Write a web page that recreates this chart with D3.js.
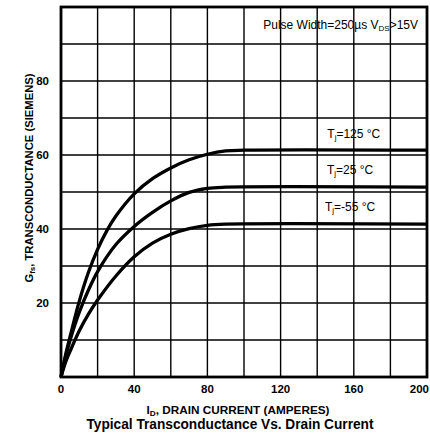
<!DOCTYPE html>
<html><head><meta charset="utf-8">
<script src="https://cdn.jsdelivr.net/npm/d3@7"></script>
<style>body{margin:0;background:#fff}svg{display:block}text{font-family:"Liberation Sans",Arial,sans-serif;fill:#000}</style>
</head><body><svg id="c" width="430" height="437"></svg>
<script>
const xTicks = [0, 40, 80, 120, 160, 200];
const yTicks = [20, 40, 60, 80];
const curve125 = [[0,0],[2.5,6],[5,11],[10,20.5],[15,28.3],[20,34.5],[25,39.5],[30,43.5],[40,49.5],[50,53.6],[60,56.5],[70,58.7],[80,60.2],[90,61.1],[100,61.3],[200,61.3]];
const curve25  = [[0,0],[2.5,5.5],[5,10],[10,17.5],[15,23.5],[20,28.5],[30,35.8],[40,40.7],[50,44.5],[60,47.6],[70,49.9],[80,51],[90,51.3],[200,51.3]];
const curveM55 = [[0,0],[2.5,4],[5,7],[10,12.5],[15,17],[20,20.8],[30,27.3],[40,32.5],[50,36.2],[60,38.6],[70,40.1],[80,41],[90,41.3],[200,41.3]];
const seriesLabels = [
  {name:"=125 °C", g:64.7, i:160},
  {name:"=25 °C", g:55, i:158},
  {name:"=-55 °C", g:45, i:158}
];

const svg = d3.select("#c");
const x = d3.scaleLinear().domain([0,200]).range([61,427]);
const y = d3.scaleLinear().domain([0,100]).range([377,7]);

// grid
svg.append("g").selectAll("line").data(d3.range(20,200,20)).join("line")
  .attr("x1",d=>x(d)).attr("x2",d=>x(d)).attr("y1",y(100)).attr("y2",y(0))
  .attr("stroke","#000").attr("stroke-width",1.4);
svg.append("g").selectAll("line").data(d3.range(10,100,10)).join("line")
  .attr("y1",d=>y(d)).attr("y2",d=>y(d)).attr("x1",x(0)).attr("x2",x(200))
  .attr("stroke","#000").attr("stroke-width",1.4);
// border
svg.append("rect").attr("x",x(0)).attr("y",y(100)).attr("width",x(200)-x(0)).attr("height",y(0)-y(100))
  .attr("fill","none").attr("stroke","#000").attr("stroke-width",2.8);

// curves
const line = d3.line().x(d=>x(d[0])).y(d=>y(d[1])).curve(d3.curveCatmullRom.alpha(0.5));
[curve125, curve25, curveM55].forEach(c=>{
  svg.append("path").attr("d",line(c)).attr("fill","none").attr("stroke","#000").attr("stroke-width",3.3).attr("stroke-linejoin","round");
});

// curve labels
seriesLabels.forEach(s=>{
  const t = svg.append("text").attr("x",x(s.i)).attr("y",y(s.g)).attr("text-anchor","middle").attr("font-size",12);
  t.append("tspan").text("T");
  t.append("tspan").attr("font-size",8).attr("dy",2).text("j");
  t.append("tspan").attr("dy",-2).text(s.name);
});

// pulse label
const p = svg.append("text").attr("x",418).attr("y",29).attr("text-anchor","end").attr("font-size",12);
p.append("tspan").text("Pulse Width=250\u00b5s V");
p.append("tspan").attr("font-size",8).attr("dy",1.5).text("DS");
p.append("tspan").attr("dy",-1.5).text(">15V");

// tick labels
svg.append("g").selectAll("text").data(xTicks).join("text")
  .attr("x",d=>d===200 ? 429 : x(d)).attr("y",393)
  .attr("text-anchor",d=>d===200 ? "end" : "middle")
  .attr("font-size",11.5).attr("font-weight","bold").text(d=>d);
svg.append("g").selectAll("text").data(yTicks).join("text")
  .attr("x",49).attr("y",d=>y(d)+4).attr("text-anchor","end").attr("font-size",11.5).attr("font-weight","bold").text(d=>d);

// axis titles
const xt = svg.append("text").attr("x",238).attr("y",414).attr("text-anchor","middle").attr("font-size",10)
  .attr("font-weight","bold").attr("textLength",183).attr("lengthAdjust","spacingAndGlyphs");
xt.append("tspan").text("I");
xt.append("tspan").attr("font-size",7).attr("dy",1.5).text("D");
xt.append("tspan").attr("dy",-1.5).text(", DRAIN CURRENT (AMPERES)");

const yt = svg.append("text").attr("transform","translate(33,178) rotate(-90)").attr("text-anchor","middle").attr("font-size",10)
  .attr("font-weight","bold").attr("textLength",209).attr("lengthAdjust","spacingAndGlyphs");
yt.append("tspan").text("G");
yt.append("tspan").attr("font-size",7).attr("dy",1.5).text("fs");
yt.append("tspan").attr("dy",-1.5).text(", TRANSCONDUCTANCE (SIEMENS)");

svg.append("text").attr("x",230).attr("y",429).attr("text-anchor","middle").attr("font-size",14).attr("font-weight","bold")
  .attr("textLength",287).attr("lengthAdjust","spacingAndGlyphs")
  .text("Typical Transconductance Vs. Drain Current");
</script></body></html>
